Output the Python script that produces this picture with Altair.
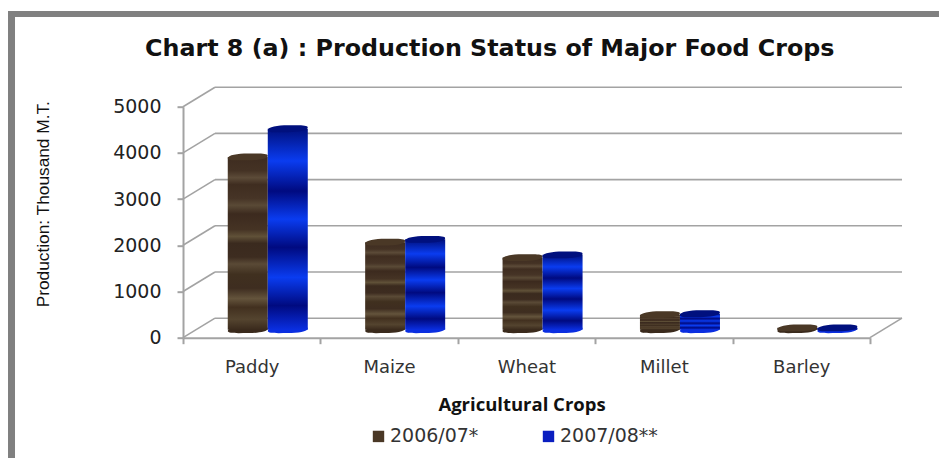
import altair as alt
import pandas as pd

crops = ["Paddy", "Maize", "Wheat", "Millet", "Barley"]
series = ["2006/07*", "2007/08**"]
values_a = [3740, 1895, 1560, 325, 40]
values_b = [4350, 1955, 1620, 345, 40]
ticks = [0, 1000, 2000, 3000, 4000, 5000]
colors = ["#4a3826", "#0a1ec0"]

rows = []
for c, a, b in zip(crops, values_a, values_b):
    rows.append({"crop": c, "series": series[0], "v": a, "zero": 0})
    rows.append({"crop": c, "series": series[1], "v": b, "zero": 0})
df = pd.DataFrame(rows)
df_a = df[df.series == series[0]]
df_b = df[df.series == series[1]]

W, H = 687, 231
DX, DY = 32, 19.5
depth = DY / H * 5000
grid = pd.DataFrame({"v": ticks, "zero": [0] * 6, "v2": [t + depth for t in ticks]})

GREY = "#a3a3a3"
ELLIPSE = ("M-1,0.07 C-1,-0.09 -0.5,-0.17 0,-0.17 C0.5,-0.17 1,-0.2 1,-0.06 "
           "C1,0.1 0.5,0.17 0,0.17 C-0.5,0.17 -1,0.2 -1,0.07 Z")

brown = alt.Gradient(gradient="linear", x1=0, x2=0, y1=0, y2=1, stops=[
    alt.GradientStop(offset=o, color=c) for o, c in [
        (0, "#3e2c20"), (0.08, "#443224"), (0.12, "#5c4b38"), (0.16, "#3f2d20"),
        (0.24, "#463426"), (0.28, "#5a4a36"), (0.33, "#3c2a1e"), (0.42, "#453324"),
        (0.46, "#605138"), (0.5, "#3a2a1e"), (0.58, "#3d2c20"), (0.62, "#5a4a36"),
        (0.68, "#40301f"), (0.76, "#3e2d20"), (0.82, "#64543c"), (0.87, "#42301f"),
        (0.94, "#54442f"), (1, "#3a2a1c")]])
blue = alt.Gradient(gradient="linear", x1=0, x2=0, y1=0, y2=1, stops=[
    alt.GradientStop(offset=o, color=c) for o, c in [
        (0, "#00107e"), (0.16, "#0a3cf0"), (0.31, "#000a80"), (0.45, "#0a3cf0"),
        (0.59, "#000a80"), (0.74, "#0a3cf0"), (0.88, "#000a80"), (1, "#0a2ee0")]])

x = alt.X("crop:N", sort=crops, title="Agricultural Crops",
          scale=alt.Scale(domain=crops, paddingInner=0, paddingOuter=0),
          axis=alt.Axis(labelAngle=0, tickBand="extent", labelPadding=15, tickSize=6,
                        titleY=58, titleX=338.5, labelFont="DejaVu Sans", labelFontSize=18,
                        labelColor="#333333", titleFont="Open Sans", titleFontSize=18.5,
                        titleFontWeight="bold", titleColor="#111111", domainColor=GREY,
                        domainWidth=2, tickColor=GREY, tickWidth=2))
y_scale = alt.Scale(domain=[0, 5000], nice=False)
y_axis = alt.Axis(values=ticks, grid=False, tickSize=6, labelPadding=16,
                  labelFont="DejaVu Sans", labelFontSize=19, labelColor="#222222",
                  titleFont="Liberation Sans", titleFontSize=17.3,
                  titleFontWeight="normal", titleColor="#111111", titleX=-131,
                  titleY=97, domainColor=GREY, domainWidth=2, tickColor=GREY,
                  tickWidth=2, format="d")


def ya(field):
    return alt.Y(field + ":Q", scale=y_scale, title="Production: Thousand M.T.", axis=y_axis)


xoff = alt.XOffset("series:N", scale=alt.Scale(domain=series, paddingInner=0, paddingOuter=0.717, align=0.78))

back_grid = alt.Chart(grid).mark_rule(color=GREY, strokeWidth=1.6, yOffset=-DY).encode(
    x=alt.value(DX), x2=alt.value(W + DX), y=ya("v"))
side_grid = alt.Chart(grid).mark_rule(color=GREY, strokeWidth=1.6).encode(
    x=alt.value(0), x2=alt.value(DX), y=ya("v"), y2="v2:Q")
floor_side = alt.Chart(grid[grid.v == 0]).mark_rule(color=GREY, strokeWidth=1.6).encode(
    x=alt.value(W), x2=alt.value(W + DX), y=ya("v"), y2="v2:Q")


def cylinder(d, fill, base_col, cap_col):
    oy = -8
    base = alt.Chart(d).mark_point(shape=ELLIPSE, filled=True, size=1600, opacity=1,
                                   color=base_col, yOffset=oy).encode(
        x=x, xOffset=xoff, y=ya("zero"))
    body = alt.Chart(d).mark_bar(fill=fill, yOffset=oy).encode(
        x=x, xOffset=xoff, y=ya("v"))
    cap = alt.Chart(d).mark_point(shape=ELLIPSE, filled=True, size=1600, opacity=1,
                                  color=cap_col, yOffset=oy).encode(
        x=x, xOffset=xoff, y=ya("v"))
    return [base, body, cap]


legend_layer = alt.Chart(df).mark_square(size=0, opacity=1).encode(
    x=x, y=ya("zero"),
    color=alt.Color("series:N", scale=alt.Scale(domain=series, range=colors), title=None,
                    legend=alt.Legend(orient="none", legendX=186, legendY=320,
                                      direction="horizontal", symbolType="square",
                                      symbolSize=130, symbolOpacity=1, labelFont="DejaVu Sans",
                                      labelFontSize=19, labelColor="#333333", columnPadding=60,
                                      labelOffset=2)))

frame_top = alt.Chart(grid[grid.v == 0]).mark_rule(color="#808080", strokeWidth=6).encode(
    x=alt.value(-175), x2=alt.value(756), y=alt.value(-92.7))
frame_left = alt.Chart(grid[grid.v == 0]).mark_rule(color="#808080", strokeWidth=7).encode(
    x=alt.value(-171.5), y=alt.value(-95.7), y2=alt.value(352))

chart = alt.layer(
    frame_top, frame_left, back_grid, side_grid, floor_side,
    *cylinder(df_a, brown, "#3a2a1c", "#4a3826"),
    *cylinder(df_b, blue, "#0a2ee0", "#00107e"),
    legend_layer,
).properties(
    width=W, height=H,
    title=alt.TitleParams("Chart 8 (a) : Production Status of Major Food Crops",
                          font="DejaVu Sans", fontSize=23.8, fontWeight="bold", color="#111111",
                          anchor="start", frame="group", offset=-53, dx=-38),
    padding={"left": 175, "top": 98.7, "right": 69, "bottom": 120},
    autosize=alt.AutoSizeParams(type="none"),
    background="white",
).configure_view(stroke=None)

chart.save("out.html", embed_options={"renderer": "svg", "actions": False})
